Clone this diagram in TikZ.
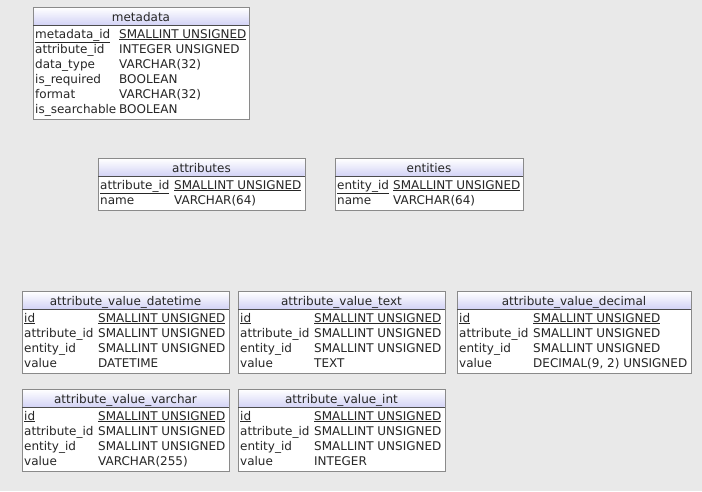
\documentclass[tikz,border=0pt]{standalone}
\usepackage{fontspec}
\setmainfont{DejaVu Sans}
\definecolor{bg}{HTML}{E9E9E9}
\definecolor{hdr}{HTML}{D4D4F6}
\definecolor{edge}{HTML}{8A8A8A}
\tikzset{
  box/.style={draw=edge,fill=white,line width=0.8pt},
  cell/.style={anchor=base west,inner sep=0pt,font=\fontsize{12}{13}\selectfont,text=black!85},
  ttl/.style={anchor=base,inner sep=0pt,font=\fontsize{12}{13}\selectfont,text=black!85}
}
\newcommand\dbtable[8]{%
  \pgfmathsetmacro\hh{22+15*#5}%
  \draw[box] (#2,#3) rectangle ++(#4,\hh);
  \shade[top color=white,bottom color=hdr] (#2+0.5,#3+0.5) rectangle ++(#4-1,17);
  \draw[edge,line width=0.8pt] (#2,#3) rectangle ++(#4,\hh);
  \draw[black!70,line width=0.8pt] (#2,#3+18) -- ++(#4,0);
  \node[ttl] (#1-t) at (#2+#4/2,#3+14) {#7};
  \foreach \a/\b [count=\i] in {#8} {
    \node[cell] (#1-k\i) at (#2+2,#3+19+15*\i-3) {\a};
    \node[cell] (#1-v\i) at (#2+#6,#3+19+15*\i-3) {\b};
  }
}
\begin{document}
\begin{tikzpicture}[x=1pt,y=-1pt]
\fill[bg] (0,0) rectangle (702,491);
\useasboundingbox (0,0) rectangle (702,491);
\dbtable{md}{33}{7}{216}{6}{86}{metadata}{\underline{metadata\_id}/\underline{SMALLINT UNSIGNED},attribute\_id/INTEGER UNSIGNED,data\_type/VARCHAR(32),is\_required/BOOLEAN,format/VARCHAR(32),is\_searchable/BOOLEAN}
\dbtable{at}{98}{158}{207}{2}{76}{attributes}{\underline{attribute\_id}/\underline{SMALLINT UNSIGNED},name/VARCHAR(64)}
\dbtable{en}{335}{158}{188}{2}{58}{entities}{\underline{entity\_id}/\underline{SMALLINT UNSIGNED},name/VARCHAR(64)}
\dbtable{dt}{22}{291}{207}{4}{76}{attribute\_value\_datetime}{\underline{id}/\underline{SMALLINT UNSIGNED},attribute\_id/SMALLINT UNSIGNED,entity\_id/SMALLINT UNSIGNED,value/DATETIME}
\dbtable{tx}{238}{291}{207}{4}{76}{attribute\_value\_text}{\underline{id}/\underline{SMALLINT UNSIGNED},attribute\_id/SMALLINT UNSIGNED,entity\_id/SMALLINT UNSIGNED,value/TEXT}
\dbtable{dc}{457}{291}{234}{4}{76}{attribute\_value\_decimal}{\underline{id}/\underline{SMALLINT UNSIGNED},attribute\_id/SMALLINT UNSIGNED,entity\_id/SMALLINT UNSIGNED,value/{DECIMAL(9, 2) UNSIGNED}}
\dbtable{vc}{22}{389}{207}{4}{76}{attribute\_value\_varchar}{\underline{id}/\underline{SMALLINT UNSIGNED},attribute\_id/SMALLINT UNSIGNED,entity\_id/SMALLINT UNSIGNED,value/VARCHAR(255)}
\dbtable{in}{238}{389}{207}{4}{76}{attribute\_value\_int}{\underline{id}/\underline{SMALLINT UNSIGNED},attribute\_id/SMALLINT UNSIGNED,entity\_id/SMALLINT UNSIGNED,value/INTEGER}
\end{tikzpicture}
\end{document}
